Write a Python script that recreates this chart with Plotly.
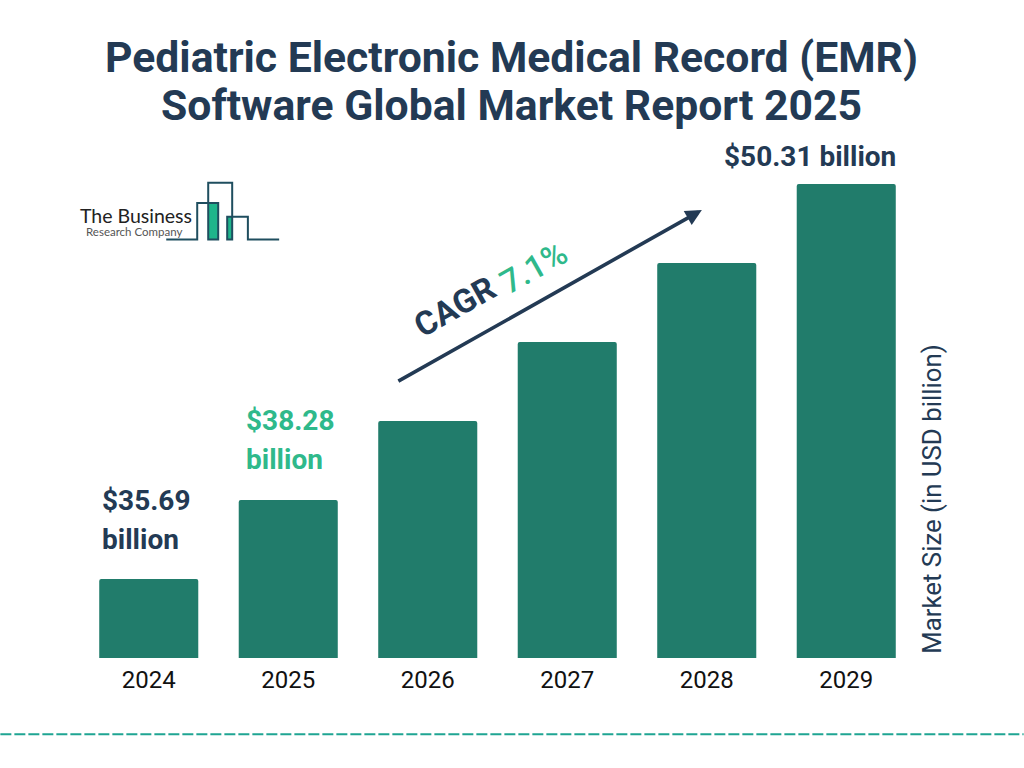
import plotly.graph_objects as go

years = ["2024", "2025", "2026", "2027", "2028", "2029"]
# Bars are drawn as equal steps in the picture, not in proportion to the dollar labels
bar_steps = [1, 2, 3, 4, 5, 6]
label_lines = {
    "2024": ["$35.69", "billion"],
    "2025": ["$38.28", "billion"],
    "2029": ["$50.31 billion"],
}
label_colors = {"2024": "#233A54", "2025": "#2FB98B", "2029": "#233A54"}
title_lines = ["Pediatric Electronic Medical Record (EMR)", "Software Global Market Report 2025"]
axis_label = "Market Size (in USD billion)"

W, H = 1024, 768
L, R, T, B = 78.7, 916.3, 184.0, 657.8
NAVY, GREEN, BAR, TEAL = "#233A54", "#2FB98B", "#217C6B", "#1F4E5F"


def px(x):
    return (x - L) / (R - L)


def py(y):
    return (B - y) / (B - T)


fig = go.Figure(go.Bar(x=years, y=bar_steps, marker=dict(color=BAR, line_width=0, cornerradius=2), width=0.71))

ann = []


def text(x, y, s, size, color=NAVY, angle=0, family="Roboto", weight=None, xanchor="center"):
    ann.append(dict(xref="paper", yref="paper", x=px(x), y=py(y), text=s, showarrow=False, textangle=angle,
                    xanchor=xanchor, yanchor="middle",
                    font=dict(family=family, size=size, color=color, weight=weight)))


for s, y in zip(title_lines, [57, 105]):
    text(512, y, f"<b>{s}</b>", 42.7)

# data labels
pos = {"2024": (100, [500, 539]), "2025": (244, [420, 459]), "2029": (722.5, [157])}
for yr, lines in label_lines.items():
    x0, ys = pos[yr]
    for s, y in zip(lines, ys):
        text(x0, y, f"<b>{s}</b>", 28, label_colors[yr], xanchor="left")

# CAGR
text(454.5, 306, "<b>CAGR</b>", 33, NAVY, angle=-29.5)
text(533.5, 267, "7.1%", 33, GREEN, angle=-29.5, weight=500)

# arrow
ann.append(dict(xref="paper", yref="paper", x=px(702), y=py(210), axref="pixel", ayref="pixel",
                ax=397 - 702, ay=382 - 210, showarrow=True, arrowhead=2, arrowsize=0.9, arrowwidth=3.6,
                arrowcolor=NAVY, text=""))

# axis label
text(932, 499, axis_label, 25.8, NAVY, angle=-90, weight=400)

# logo text
text(77.5, 215, "The Business", 19.5, "#222222", family="Lato", xanchor="left", weight=400)
text(83.5, 231, "Research Company", 11.5, "#555555", family="Lato", xanchor="left", weight=400)

shapes = []


def rect(x0, y0, x1, y1):
    shapes.append(dict(type="rect", xref="paper", yref="paper", x0=px(x0), x1=px(x1), y0=py(y0), y1=py(y1),
                       fillcolor="#1FB58B", line_width=0, layer="above"))


rect(208, 203, 218, 239.5)
rect(227, 216.7, 232, 239.5)
pts = [(166, 239.5), (197, 239.5), (197, 203), (218, 203), (218, 239.5), (208, 239.5), (208, 182.7),
       (232, 182.7), (232, 239.5), (227, 239.5), (227, 216.7), (247.7, 216.7), (247.7, 239.5), (279, 239.5)]
path = "M " + " L ".join(f"{px(a):.5f} {py(b):.5f}" for a, b in pts)
shapes.append(dict(type="path", xref="paper", yref="paper", path=path, line=dict(color=TEAL, width=2), layer="above"))

# dashed rule
shapes.append(dict(type="line", xref="paper", yref="paper", x0=px(0), x1=px(W), y0=py(734), y1=py(734),
                   line=dict(color="#1FA593", width=2, dash="11px,3px")))

fig.update_layout(
    width=W, height=H, autosize=False,
    margin=dict(l=L, r=W - R, t=T, b=H - B, pad=0),
    paper_bgcolor="white", plot_bgcolor="white", showlegend=False,
    annotations=ann, shapes=shapes,
    xaxis=dict(type="category", range=[-0.5, 5.5], showgrid=False, showline=False, zeroline=False, ticks="",
               tickfont=dict(family="Roboto", size=24, color="#111111"), ticklabelstandoff=5),
    yaxis=dict(range=[0, 6], visible=False),
)
fig.write_html("out.html", config={"displayModeBar": False}, post_script="document.body.style.margin='0';")
